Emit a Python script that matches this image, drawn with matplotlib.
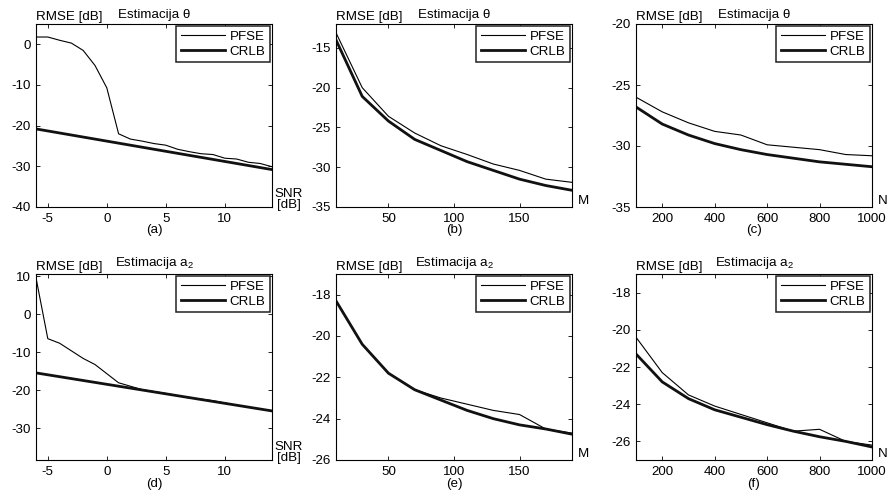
import numpy as np
import matplotlib
matplotlib.use('Agg')
import matplotlib.pyplot as plt

plt.rcParams['font.family'] = ['Liberation Sans', 'DejaVu Sans']
plt.rcParams['mathtext.fontset'] = 'custom'
plt.rcParams['mathtext.rm'] = 'Liberation Sans'
plt.rcParams['mathtext.it'] = 'Liberation Sans:italic'
plt.rcParams['mathtext.default'] = 'regular'
plt.rcParams['axes.unicode_minus'] = False

# x axes
snr = [-6, -5, -4, -3, -2, -1, 0, 1, 2, 3, 4, 5, 6, 7, 8, 9, 10, 11, 12, 13, 14]
m_vals = [10, 30, 50, 70, 90, 110, 130, 150, 170, 190]
n_vals = [100, 200, 300, 400, 500, 600, 700, 800, 900, 1000]

# (a) theta vs SNR
pfse_a = [1.8, 1.8, 1.0, 0.3, -1.5, -5.2, -10.7, -22.0, -23.3, -23.8, -24.4, -24.8,
          -25.8, -26.4, -26.9, -27.1, -28.0, -28.2, -29.0, -29.3, -30.1]
crlb_a = [-20.8, -21.3, -21.8, -22.3, -22.8, -23.3, -23.8, -24.3, -24.8, -25.3, -25.8,
          -26.3, -26.8, -27.3, -27.8, -28.3, -28.8, -29.3, -29.8, -30.3, -30.8]
# (b) theta vs M
pfse_b = [-13.1, -20.0, -23.6, -25.7, -27.3, -28.4, -29.6, -30.4, -31.5, -31.9]
crlb_b = [-14.0, -21.1, -24.2, -26.5, -27.9, -29.3, -30.4, -31.5, -32.3, -32.9]
# (c) theta vs N
pfse_c = [-26.0, -27.2, -28.1, -28.8, -29.1, -29.9, -30.1, -30.3, -30.7, -30.8]
crlb_c = [-26.8, -28.2, -29.1, -29.8, -30.3, -30.7, -31.0, -31.3, -31.5, -31.7]
# (d) a2 vs SNR
pfse_d = [9.6, -6.4, -7.6, -9.6, -11.6, -13.2, -15.6, -18.0, -18.9, -19.8, -20.3, -20.8,
          -21.4, -22.0, -22.3, -22.7, -23.3, -23.9, -24.4, -24.9, -25.4]
crlb_d = [-15.4, -15.9, -16.4, -16.9, -17.4, -17.9, -18.4, -18.9, -19.4, -19.9, -20.4,
          -20.9, -21.4, -21.9, -22.4, -22.9, -23.4, -23.9, -24.4, -24.9, -25.4]
# (e) a2 vs M
pfse_e = [-18.3, -20.4, -21.8, -22.6, -23.0, -23.3, -23.6, -23.8, -24.5, -24.7]
crlb_e = [-18.3, -20.4, -21.8, -22.6, -23.1, -23.6, -24.0, -24.3, -24.5, -24.75]
# (f) a2 vs N
pfse_f = [-20.4, -22.3, -23.5, -24.1, -24.55, -25.0, -25.45, -25.35, -26.0, -26.2]
crlb_f = [-21.3, -22.8, -23.7, -24.3, -24.7, -25.1, -25.45, -25.75, -26.0, -26.3]

panels = [
    (snr, pfse_a, crlb_a, (-6, 14), (-40, 5), [-5, 0, 5, 10], [-40, -30, -20, -10, 0], 'SNR\n[dB]', 'Estimacija \u03b8', '(a)'),
    (m_vals, pfse_b, crlb_b, (10, 190), (-35, -12), [50, 100, 150], [-35, -30, -25, -20, -15], 'M', 'Estimacija \u03b8', '(b)'),
    (n_vals, pfse_c, crlb_c, (100, 1000), (-35, -20), [200, 400, 600, 800, 1000], [-35, -30, -25, -20], 'N', 'Estimacija \u03b8', '(c)'),
    (snr, pfse_d, crlb_d, (-6, 14), (-38.3, 10.6), [-5, 0, 5, 10], [-30, -20, -10, 0, 10], 'SNR\n[dB]', 'Estimacija a$_2$', '(d)'),
    (m_vals, pfse_e, crlb_e, (10, 190), (-26, -17), [50, 100, 150], [-26, -24, -22, -20, -18], 'M', 'Estimacija a$_2$', '(e)'),
    (n_vals, pfse_f, crlb_f, (100, 1000), (-27, -17), [200, 400, 600, 800, 1000], [-26, -24, -22, -20, -18], 'N', 'Estimacija a$_2$', '(f)'),
]

fig = plt.figure(figsize=(8.92, 5.0), dpi=100)
lefts = [36, 336, 636]
fs = 9.6

for i, (x, p, c, xl, yl, xt, yt, xlab, title, tag) in enumerate(panels):
    row, col = divmod(i, 3)
    if row == 0:
        top_px, bot_px = 24, 207
    else:
        top_px, bot_px = 274, 460
    ax = fig.add_axes([lefts[col] / 892, 1 - bot_px / 500, 236 / 892, (bot_px - top_px) / 500])
    ax.plot(x, p, color='black', lw=0.8, label='PFSE')
    ax.plot(x, c, color='#111111', lw=2.0, label='CRLB')
    ax.set_xlim(xl)
    ax.set_ylim(yl)
    ax.set_xticks(xt)
    ax.set_yticks(yt)
    ax.tick_params(direction='in', top=True, right=True, length=3, width=0.6,
                   labelsize=fs, pad=4)
    for s in ax.spines.values():
        s.set_linewidth(0.8)
    leg = ax.legend(loc='upper right', bbox_to_anchor=(1.0, 1.0), borderaxespad=0.15,
                    fontsize=fs, handlelength=3.3, handletextpad=0.4, borderpad=0.32,
                    labelspacing=0.22, fancybox=False, shadow=False,
                    framealpha=1, edgecolor='#222222')
    leg.get_frame().set_linewidth(1.1)
    ax.text(0.0, 1.008, 'RMSE [dB]', transform=ax.transAxes, ha='left', va='bottom', fontsize=fs)
    ax.text(0.5, 1.015, title, transform=ax.transAxes, ha='center', va='bottom', fontsize=fs)
    if '\n' in xlab:
        ax.text(1.012, -0.02, xlab, transform=ax.transAxes, ha='left', va='bottom', fontsize=fs,
                multialignment='center', linespacing=0.85)
    else:
        ax.text(1.025, 0.0, xlab, transform=ax.transAxes, ha='left', va='bottom', fontsize=fs)
    ax.text(0.5, -0.095, tag, transform=ax.transAxes, ha='center', va='top', fontsize=fs)

fig.savefig('out.png', dpi=100)
